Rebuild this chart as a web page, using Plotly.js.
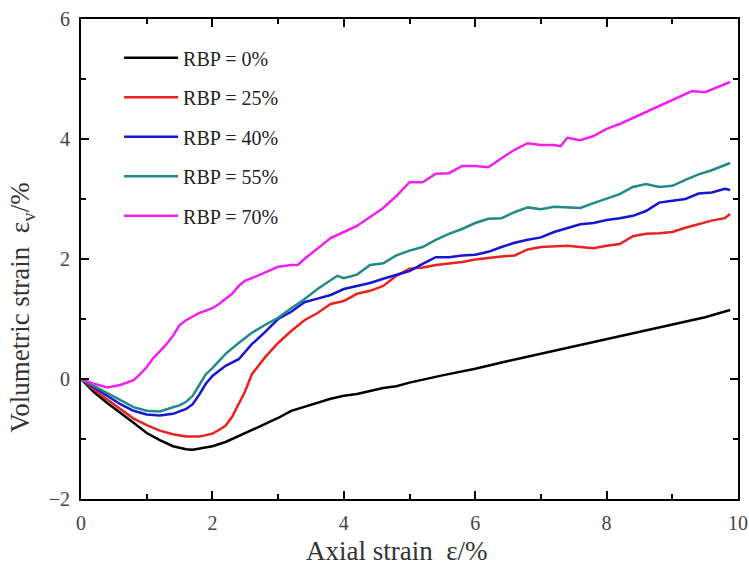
<!DOCTYPE html>
<html>
<head>
<meta charset="utf-8">
<script src="https://cdn.plot.ly/plotly-3.0.1.min.js"></script>
<style>html,body{margin:0;padding:0;background:#fff;}#chart{width:749px;height:568px;}</style>
</head>
<body>
<div id="chart"></div>
<script>
// RBP = 0%
const x0 = [0,0.2,0.4,0.6,0.8,1.0,1.2,1.4,1.6,1.7,1.8,2.0,2.2,2.4,2.6,2.8,3.0,3.2,3.4,3.6,3.8,4.0,4.2,4.4,4.6,4.8,5.0,5.5,6.0,6.5,7.0,7.5,8.0,8.5,9.0,9.5,9.88];
const y0 = [0,-0.22,-0.4,-0.56,-0.73,-0.9,-1.02,-1.12,-1.17,-1.18,-1.16,-1.12,-1.05,-0.95,-0.85,-0.75,-0.65,-0.53,-0.46,-0.4,-0.33,-0.28,-0.25,-0.2,-0.15,-0.12,-0.06,0.06,0.17,0.3,0.42,0.54,0.66,0.78,0.9,1.03,1.15];
// RBP = 25%
const x25 = [0,0.2,0.4,0.6,0.8,1.0,1.2,1.4,1.6,1.8,2.0,2.1,2.2,2.3,2.4,2.5,2.6,2.7,2.8,3.0,3.2,3.4,3.6,3.8,4.0,4.2,4.4,4.6,4.8,5.0,5.2,5.4,5.6,5.8,6.0,6.2,6.4,6.6,6.8,7.0,7.2,7.4,7.6,7.8,8.0,8.2,8.4,8.6,8.8,9.0,9.2,9.4,9.6,9.8,9.88];
const y25 = [0,-0.18,-0.34,-0.5,-0.66,-0.77,-0.86,-0.92,-0.96,-0.96,-0.91,-0.85,-0.78,-0.63,-0.42,-0.2,0.08,0.22,0.36,0.6,0.8,0.98,1.1,1.25,1.3,1.42,1.47,1.55,1.72,1.84,1.86,1.9,1.92,1.95,1.99,2.02,2.04,2.06,2.16,2.2,2.21,2.22,2.2,2.18,2.22,2.25,2.38,2.42,2.43,2.45,2.52,2.58,2.64,2.68,2.75];
// RBP = 40%
const x40 = [0,0.2,0.4,0.6,0.8,1.0,1.2,1.4,1.6,1.7,1.8,1.9,2.0,2.2,2.4,2.6,2.8,3.0,3.2,3.4,3.6,3.8,4.0,4.2,4.4,4.6,4.8,5.0,5.2,5.4,5.6,5.8,6.0,6.2,6.4,6.6,6.8,7.0,7.2,7.4,7.6,7.8,8.0,8.2,8.4,8.6,8.8,9.0,9.2,9.4,9.6,9.8,9.88];
const y40 = [0,-0.14,-0.28,-0.42,-0.53,-0.59,-0.61,-0.58,-0.5,-0.42,-0.26,-0.08,0.05,0.22,0.33,0.58,0.78,1.0,1.12,1.28,1.34,1.4,1.5,1.55,1.6,1.67,1.73,1.8,1.92,2.03,2.03,2.06,2.07,2.12,2.2,2.27,2.32,2.36,2.45,2.52,2.58,2.6,2.65,2.68,2.72,2.8,2.94,2.97,3.0,3.09,3.11,3.17,3.15];
// RBP = 55%
const x55 = [0,0.2,0.4,0.6,0.8,1.0,1.2,1.4,1.5,1.6,1.7,1.8,1.9,2.0,2.2,2.4,2.6,2.8,3.0,3.2,3.4,3.6,3.8,3.9,4.0,4.2,4.4,4.6,4.8,5.0,5.2,5.4,5.6,5.8,6.0,6.2,6.4,6.6,6.8,7.0,7.2,7.4,7.6,7.8,8.0,8.2,8.4,8.6,8.8,9.0,9.2,9.4,9.6,9.88];
const y55 = [0,-0.12,-0.24,-0.36,-0.47,-0.53,-0.54,-0.47,-0.44,-0.38,-0.28,-0.1,0.08,0.18,0.42,0.6,0.77,0.9,1.02,1.18,1.33,1.5,1.65,1.72,1.68,1.74,1.9,1.93,2.06,2.14,2.2,2.32,2.42,2.5,2.6,2.67,2.68,2.78,2.86,2.83,2.87,2.86,2.85,2.93,3.0,3.08,3.2,3.25,3.2,3.22,3.32,3.41,3.48,3.6];
// RBP = 70%
const x70 = [0,0.2,0.4,0.6,0.8,0.9,1.0,1.1,1.2,1.3,1.4,1.5,1.6,1.7,1.8,1.9,2.0,2.1,2.2,2.3,2.4,2.5,2.6,2.8,3.0,3.2,3.3,3.4,3.6,3.8,4.0,4.2,4.4,4.6,4.8,5.0,5.2,5.4,5.6,5.8,6.0,6.2,6.4,6.6,6.8,7.0,7.2,7.3,7.4,7.6,7.8,8.0,8.2,8.4,8.6,8.8,9.0,9.2,9.3,9.5,9.7,9.88];
const y70 = [0,-0.08,-0.14,-0.1,-0.02,0.08,0.2,0.35,0.46,0.58,0.72,0.9,0.98,1.04,1.1,1.14,1.18,1.25,1.33,1.42,1.55,1.64,1.68,1.77,1.87,1.9,1.9,2.0,2.18,2.35,2.45,2.55,2.7,2.85,3.05,3.28,3.28,3.42,3.43,3.55,3.55,3.53,3.68,3.82,3.93,3.9,3.9,3.88,4.02,3.98,4.05,4.17,4.25,4.35,4.45,4.55,4.65,4.75,4.8,4.78,4.87,4.95];

const names = ['RBP = 0%','RBP = 25%','RBP = 40%','RBP = 55%','RBP = 70%'];
const colors = ['#000000','#e8231f','#1515d6','#1f8a86','#f020f0'];
const xTitle = 'Axial strain  ε/%';
const yTitle = 'Volumetric strain  ε<sub>v</sub>/%';
const xs = [x0,x25,x40,x55,x70];
const ys = [y0,y25,y40,y55,y70];

const traces = xs.map((x,i)=>({
  x: x, y: ys[i], type:'scatter', mode:'lines', name: names[i],
  legendgroup: 'g'+i,
  line:{color: colors[i], width:2.5}
}));

const fontFam = '"Liberation Serif", "Times New Roman", serif';
const axisBase = {
  showline:true, linewidth:2, linecolor:'#000', mirror:'ticks',
  ticks:'inside', ticklen:8, tickwidth:2, tickcolor:'#000',
  showgrid:false, zeroline:false, ticklabelstandoff:5,
  tickfont:{family:fontFam, size:20, color:'#444'},
  minor:{ticks:'inside', ticklen:5, tickwidth:2, tickcolor:'#000', dtick:1, showgrid:false}
};

const layout = {
  width:749, height:568,
  margin:{l:81, r:11, t:19, b:69},
  paper_bgcolor:'#fff', plot_bgcolor:'#fff',
  font:{family:fontFam, color:'#333'},
  showlegend:true,
  legend:{x:0.058, y:0.96, xanchor:'left', yanchor:'top', bgcolor:'rgba(0,0,0,0)',
    font:{family:fontFam, size:20, color:'#222'}, tracegroupgap:10.5, itemwidth:54},
  xaxis: Object.assign({}, axisBase, {range:[0,10], dtick:2, tick0:0}),
  yaxis: Object.assign({}, axisBase, {range:[-2,6], dtick:2, tick0:-2}),
  annotations:[
    {text:xTitle, xref:'paper', yref:'paper', x:0.481, y:-0.108, xanchor:'center', yanchor:'middle',
     showarrow:false, font:{family:fontFam, size:27, color:'#333'}},
    {text:yTitle, xref:'paper', yref:'paper', x:-0.09, y:0.40, xanchor:'center', yanchor:'middle',
     textangle:-90, showarrow:false, font:{family:fontFam, size:27, color:'#333'}}
  ]
};

Plotly.newPlot('chart', traces, layout, {displayModeBar:false, staticPlot:true});
</script>
</body>
</html>
